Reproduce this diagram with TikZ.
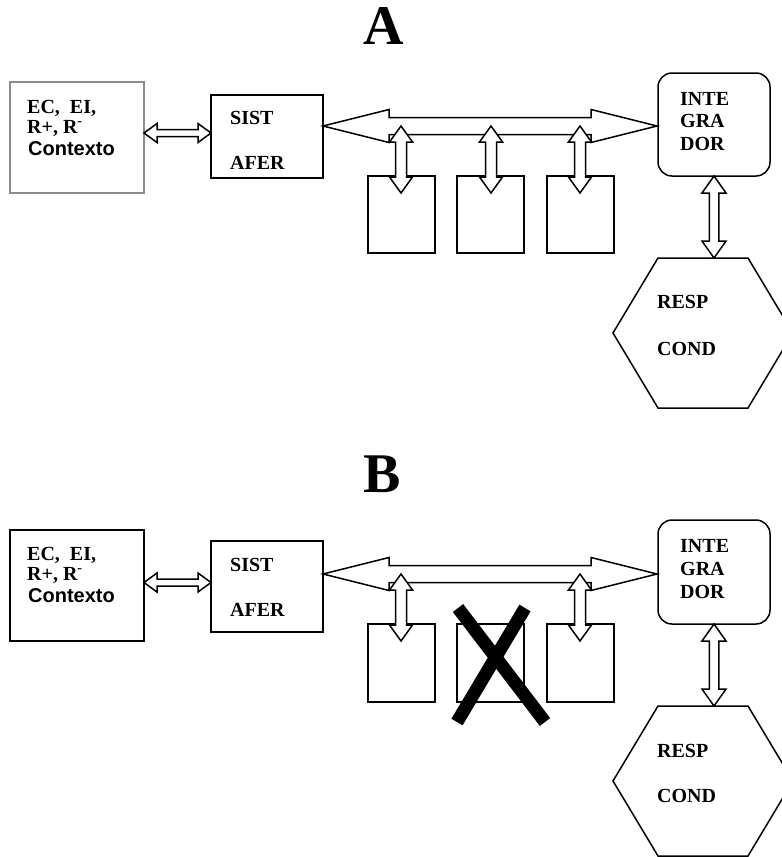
\documentclass[tikz,border=0pt]{standalone}
\usepackage{fontspec}
\setmainfont{Liberation Serif}
\setsansfont{Liberation Sans}
\usetikzlibrary{calc}
\newcommand\dblarr[5]{%
  \coordinate (daP) at ($(#1)!#5!(#2)$);
  \coordinate (daQ) at ($(#2)!#5!(#1)$);
  \draw[arrowbody] (#1) -- ($(daP)!#4!90:(#2)$) -- ($(daP)!#3!90:(#2)$)
    -- ($(daQ)!#3!-90:(#1)$) -- ($(daQ)!#4!-90:(#1)$) -- (#2)
    -- ($(daQ)!#4!90:(#1)$) -- ($(daQ)!#3!90:(#1)$)
    -- ($(daP)!#3!-90:(#2)$) -- ($(daP)!#4!-90:(#2)$) -- cycle;
}
\begin{document}
\begin{tikzpicture}[x=1pt,y=-1pt,
  box/.style={draw,line width=1.5pt,inner sep=0pt,outer sep=0pt,fill=white},
  smallbox/.style={box,minimum width=67pt},
  lbl/.style={anchor=base west,inner sep=0pt,font=\fontsize{20}{22}\selectfont\bfseries},
  slbl/.style={anchor=base west,inner sep=0pt,font=\fontsize{20}{22}\selectfont\sffamily\bfseries},
  arrowbody/.style={draw,fill=white,line width=1.5pt,line join=miter},
  hexbody/.style={draw,fill=white,line width=1.5pt,line join=miter},
  titletext/.style={anchor=base,inner sep=0pt,font=\fontsize{56}{60}\selectfont\bfseries},
  cross/.style={line width=13pt,line cap=butt}]
\useasboundingbox (0,0) rectangle (782,857);

% ================= Panel A =================
\node[titletext] (titA) at (383.5,44) {A};
\node[box,draw=black!45,minimum width=134pt,minimum height=111pt] (ctxA) at (77,137.5) {};
\node[box,minimum width=112pt,minimum height=83pt] (sistA) at (267,136.5) {};
\node[smallbox,minimum height=77pt] (b1A) at (401.5,214.5) {};
\node[smallbox,minimum height=77pt] (b2A) at (490.5,214.5) {};
\node[smallbox,minimum height=77pt] (b3A) at (580.5,214.5) {};
\node[box,rounded corners=14pt,minimum width=112pt,minimum height=103pt] (intA) at (714,124.5) {};
\draw[hexbody] (658,258) coordinate (hexAt) -- (748,258) -- (793,333) -- (748,408) -- (658,408) -- (613,333) -- cycle;

\node[lbl] (ecA) at (27,113) {EC,\ \ EI,};
\node[lbl] (rA) at (27,133) {R+, R\smash{\textsuperscript{-}}};
\node[slbl] (coA) at (28,155) {Contexto};
\node[lbl] (siA) at (230,124) {SIST};
\node[lbl] (afA) at (230,169) {AFER};
\node[lbl] (inA) at (680,105) {INTE};
\node[lbl] (grA) at (680,127) {GRA};
\node[lbl] (doA) at (680,150) {DOR};
\node[lbl] (reA) at (657,308) {RESP};
\node[lbl] (cnA) at (657,355) {COND};

\coordinate (caL) at (144,133);   \coordinate (caR) at (211,133);
\coordinate (busAL) at (323,126); \coordinate (busAR) at (657,126);
\coordinate (v1At) at (401,126);  \coordinate (v1Ab) at (401,193);
\coordinate (v2At) at (491,126);  \coordinate (v2Ab) at (491,193);
\coordinate (v3At) at (580,126);  \coordinate (v3Ab) at (580,193);
\coordinate (ihAt) at (714,176);  \coordinate (ihAb) at (714,258);

\dblarr{caL}{caR}{3.5pt}{9.5pt}{13pt}
\dblarr{busAL}{busAR}{8.5pt}{16.5pt}{66pt}
\dblarr{v1At}{v1Ab}{5.5pt}{11.5pt}{16pt}
\dblarr{v2At}{v2Ab}{5.5pt}{11.5pt}{16pt}
\dblarr{v3At}{v3Ab}{5.5pt}{11.5pt}{16pt}
\dblarr{ihAt}{ihAb}{4.75pt}{12pt}{17pt}

% ================= Panel B =================
\node[titletext] (titB) at (382.5,492) {B};
\node[box,minimum width=134pt,minimum height=111pt] (ctxB) at (77,585.5) {};
\node[box,minimum width=112pt,minimum height=91pt] (sistB) at (267,586.5) {};
\node[smallbox,minimum height=78pt] (b1B) at (401.5,663) {};
\node[smallbox,minimum height=78pt] (b2B) at (490.5,663) {};
\node[smallbox,minimum height=78pt] (b3B) at (580.5,663) {};
\node[box,rounded corners=14pt,minimum width=112pt,minimum height=104pt] (intB) at (714,572) {};
\draw[hexbody] (658,706) coordinate (hexBt) -- (748,706) -- (793,781) -- (748,856) -- (658,856) -- (613,781) -- cycle;

\node[lbl] (ecB) at (27,560) {EC,\ \ EI,};
\node[lbl] (rB) at (27,580) {R+, R\smash{\textsuperscript{-}}};
\node[slbl] (coB) at (28,602) {Contexto};
\node[lbl] (siB) at (230,571) {SIST};
\node[lbl] (afB) at (230,616) {AFER};
\node[lbl] (inB) at (680,552) {INTE};
\node[lbl] (grB) at (680,575) {GRA};
\node[lbl] (doB) at (680,598) {DOR};
\node[lbl] (reB) at (657,757) {RESP};
\node[lbl] (cnB) at (657,802) {COND};

\coordinate (cbL) at (144,582.5); \coordinate (cbR) at (211,582.5);
\coordinate (busBL) at (323,574); \coordinate (busBR) at (657,574);
\coordinate (v1Bt) at (401,574);  \coordinate (v1Bb) at (401,641);
\coordinate (v3Bt) at (580,574);  \coordinate (v3Bb) at (580,641);
\coordinate (ihBt) at (714,624);  \coordinate (ihBb) at (714,706);

\dblarr{cbL}{cbR}{3.5pt}{9.5pt}{13pt}
\dblarr{busBL}{busBR}{8.5pt}{16.5pt}{66pt}
\dblarr{v1Bt}{v1Bb}{5.5pt}{11.5pt}{16pt}
\dblarr{v3Bt}{v3Bb}{5.5pt}{11.5pt}{16pt}
\dblarr{ihBt}{ihBb}{4.75pt}{12pt}{17pt}

\coordinate (xa1) at (458,608); \coordinate (xa2) at (545,722);
\coordinate (xb1) at (525,608); \coordinate (xb2) at (457,722);
\draw[cross] (xa1) -- (xa2);
\draw[cross] (xb1) -- (xb2);
\end{tikzpicture}
\end{document}
